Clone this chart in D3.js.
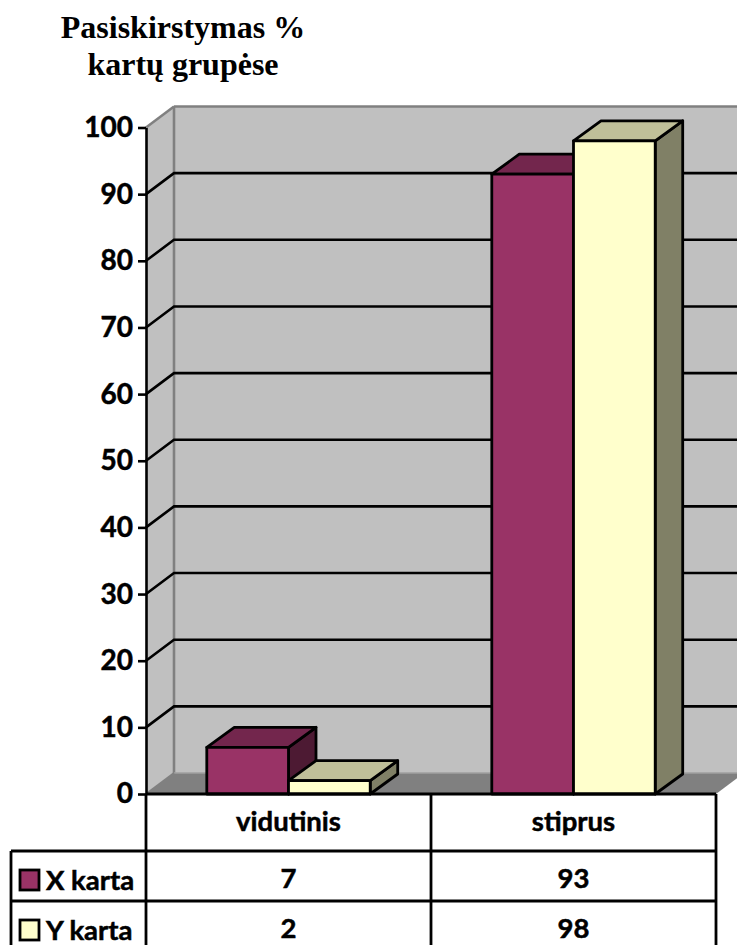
<!DOCTYPE html>
<html>
<head>
<meta charset="utf-8">
<script src="https://cdn.jsdelivr.net/npm/d3@7"></script>
<style>
html,body{margin:0;padding:0;background:#fff;overflow:hidden}
svg{display:block}
.lbl{font-family:Lato,"Open Sans",sans-serif;font-weight:700;fill:#000;stroke:#000;stroke-width:0.5px}
.ttl{font-family:"Liberation Serif",serif;font-weight:700;font-size:32px;fill:#000}
</style>
</head>
<body>
<svg id="chart" width="737" height="945"></svg>
<script>
// Chart data
const categories = ["vidutinis", "stiprus"];
const seriesNames = ["X karta", "Y karta"];
const xKarta = [7, 93];
const yKarta = [2, 98];
const yTicks = [0, 10, 20, 30, 40, 50, 60, 70, 80, 90, 100];
const titleLines = ["Pasiskirstymas %", "kartų grupėse"];
const seriesValues = [xKarta, yKarta];

// Face colours per series: front, top, side
const faces = [
  { front: "#993366", top: "#73264d", side: "#4d1a33" },
  { front: "#ffffcc", top: "#bfbf99", side: "#808066" }
];

const W = 737, H = 945;
const svg = d3.select("#chart");

const y = d3.scaleLinear().domain([0, 100]).range([794, 127.5]);
const x0 = d3.scaleBand().domain(categories).range([146, 716]);
const x1 = d3.scaleBand().domain(d3.range(seriesNames.length))
  .range([0, x0.bandwidth()]).paddingInner(0).paddingOuter(0.744);

// Oblique depth of the 3-D box
const wallDx = 28, wallDy = -21;
const barDx = 27.5, barDy = -20;

const poly = (g, pts, fill, stroke, sw) => g.append("polygon")
  .attr("points", pts.map(p => p.join(",")).join(" "))
  .attr("fill", fill).attr("stroke", stroke || "none").attr("stroke-width", sw || 0)
  .attr("stroke-linejoin", "round");

const left = x0.range()[0], right = x0.range()[1];
const base = y(0), top100 = y(100);
const box = svg.append("g");

// Back wall, side wall and floor
poly(box, [[left + wallDx, top100 + wallDy], [right + wallDx, top100 + wallDy],
           [right + wallDx, base + wallDy], [left + wallDx, base + wallDy]], "#c0c0c0");
poly(box, [[left, base], [left, top100], [left + wallDx, top100 + wallDy], [left + wallDx, base + wallDy]], "#c0c0c0");
poly(box, [[left, base], [right, base], [right + wallDx, base + wallDy], [left + wallDx, base + wallDy]], "#808080");

// Grey box edges
const edge = (a, b, c, w) => box.append("line")
  .attr("x1", a[0]).attr("y1", a[1]).attr("x2", b[0]).attr("y2", b[1])
  .attr("stroke", c).attr("stroke-width", w);
edge([left + wallDx, top100 + wallDy], [right + wallDx, top100 + wallDy], "#808080", 2.6);
edge([left + wallDx, top100 + wallDy], [left + wallDx, base + wallDy], "#808080", 2.6);
edge([left + wallDx, base + wallDy], [right + wallDx, base + wallDy], "#a0a0a0", 1.5);
edge([left, top100], [left + wallDx, top100 + wallDy], "#808080", 2.6);
edge([left, base], [left + wallDx, base + wallDy], "#808080", 2);

// Gridlines run along the side wall and across the back wall
yTicks.filter(t => t > 0 && t < 100).forEach(t => {
  box.append("polyline")
    .attr("points", [[left, y(t)], [left + wallDx, y(t) + wallDy], [right + wallDx, y(t) + wallDy]].join(" "))
    .attr("fill", "none").attr("stroke", "#000").attr("stroke-width", 2.6);
});

// 3-D bars, drawn category by category so nearer faces overlap correctly
const bars = svg.append("g");
categories.forEach((cat, ci) => {
  seriesValues.forEach((vals, si) => {
    const bx = x0(cat) + x1(si), bw = x1.bandwidth(), ty = y(vals[ci]);
    const g = bars.append("g");
    const sw = 2.8;
    poly(g, [[bx + bw, ty], [bx + bw + barDx, ty + barDy], [bx + bw + barDx, base + barDy], [bx + bw, base]], faces[si].side, "#000", sw);
    poly(g, [[bx, ty], [bx + barDx, ty + barDy], [bx + bw + barDx, ty + barDy], [bx + bw, ty]], faces[si].top, "#000", sw);
    poly(g, [[bx, ty], [bx + bw, ty], [bx + bw, base], [bx, base]], faces[si].front, "#000", sw);
  });
});

// Value axis
const axis = d3.axisLeft(y).tickValues(yTicks).tickSize(8).tickPadding(5).tickSizeOuter(0);
const axisG = svg.append("g").attr("transform", `translate(${left},0)`).call(axis);
axisG.selectAll("path,line").attr("stroke", "#000").attr("stroke-width", 2.6);
axisG.selectAll("text").attr("class", "lbl").attr("font-size", null).attr("font-family", null)
  .style("font-size", "28px");

// Data table below the plot
const rowLines = [base, 851, 901];
const tbl = svg.append("g").attr("stroke", "#000").attr("stroke-width", 2.8);
const legendLeft = 11;
tbl.append("line").attr("x1", left).attr("x2", right).attr("y1", base).attr("y2", base).attr("stroke-width", 3.2);
rowLines.slice(1).forEach(ry => tbl.append("line").attr("x1", legendLeft).attr("x2", right).attr("y1", ry).attr("y2", ry));
[left, x0("stiprus"), right].forEach(vx => tbl.append("line").attr("x1", vx).attr("x2", vx).attr("y1", base).attr("y2", H));
tbl.append("line").attr("x1", legendLeft).attr("x2", legendLeft).attr("y1", rowLines[1]).attr("y2", H);

const cellText = (tx, ty, s, anchor, size) => svg.append("text").attr("class", "lbl")
  .attr("x", tx).attr("y", ty).attr("text-anchor", anchor || "middle")
  .style("font-size", (size || 27.5) + "px").text(s);

categories.forEach(cat => cellText(x0(cat) + x0.bandwidth() / 2, 831, cat));
const rowBaselines = [888, 938];
seriesNames.forEach((name, si) => {
  const ry = rowBaselines[si];
  svg.append("rect").attr("x", 20).attr("y", ry - 18).attr("width", 19).attr("height", 20)
    .attr("fill", faces[si].front).attr("stroke", "#000").attr("stroke-width", 2.8);
  cellText(46, ry + 2, name, "start");
  seriesValues[si].forEach((v, ci) => cellText(x0(categories[ci]) + x0.bandwidth() / 2, ry, v));
});

// Two-line title
svg.selectAll(".ttl").data(titleLines).enter().append("text").attr("class", "ttl")
  .attr("x", 183).attr("y", (d, i) => 38 + i * 37).attr("text-anchor", "middle").text(d => d);
</script>
</body>
</html>
